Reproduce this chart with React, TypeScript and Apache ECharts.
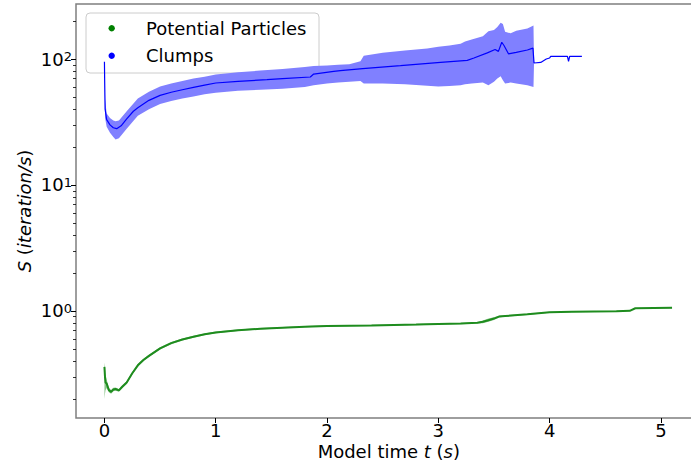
import React, { useEffect, useRef } from 'react';
import * as echarts from 'echarts';

// Clumps: mean throughput over model time
const clumpT = [0, 0.002, 0.006, 0.02, 0.05, 0.08, 0.11, 0.15, 0.2, 0.26, 0.3, 0.4, 0.5, 0.6, 0.7, 0.8, 0.9, 1.0, 1.2, 1.46, 1.6, 1.85, 1.88, 2.06, 2.12, 2.32, 2.66, 3.02, 3.26, 3.32, 3.44, 3.51, 3.54, 3.57, 3.59, 3.63, 3.7, 3.8, 3.85, 3.86, 3.92, 3.97, 4.0, 4.01, 4.16, 4.17, 4.18, 4.29];
const clumpMean = [95, 68, 40, 33, 30, 28.5, 28, 29.5, 33.5, 38.5, 41, 47, 51.5, 54.5, 57, 59.5, 62, 64.5, 66.5, 68.6, 70, 72, 76, 79.8, 80.9, 84, 88.6, 94.2, 97.7, 102, 112, 119, 115, 136, 128, 110, 113, 118, 122, 93, 94, 100, 102, 105, 105, 96, 105, 105];

// Clumps: spread band
const clumpBandT = [0, 0.002, 0.006, 0.02, 0.05, 0.08, 0.1, 0.13, 0.2, 0.3, 0.4, 0.5, 0.6, 0.7, 0.8, 0.9, 1.0, 1.2, 1.4, 1.6, 1.8, 1.88, 2.0, 2.1, 2.2, 2.3, 2.33, 2.5, 2.7, 2.9, 3.0, 3.1, 3.2, 3.24, 3.3, 3.4, 3.45, 3.5, 3.53, 3.56, 3.58, 3.6, 3.65, 3.7, 3.8, 3.855, 3.86];
const clumpUpper = [100, 75, 48, 37, 34, 32.5, 32, 32.5, 38.5, 48.5, 55, 60.5, 64, 67, 70, 72.5, 75.5, 78.5, 81, 83.5, 86.5, 88, 89, 90, 91, 96, 106, 112, 117, 121, 125, 128, 132, 138, 143, 152, 166, 170, 180, 194, 190, 165, 160, 168, 175, 185, 93];
const clumpLower = [90, 62, 34, 29, 26, 24, 23, 23.5, 28, 35.5, 40, 44, 46.5, 48.5, 50.5, 52.5, 54, 56, 57, 58, 60, 62, 64, 65, 66, 67, 64, 64, 63, 61.5, 60.5, 61, 62, 63, 64, 65, 62, 66, 70, 73, 68, 64, 65, 64, 62, 60, 93];

// Potential particles: mean and spread
const particleT = [0, 0.005, 0.01, 0.02, 0.04, 0.06, 0.08, 0.1, 0.13, 0.16, 0.2, 0.25, 0.3, 0.35, 0.4, 0.5, 0.6, 0.7, 0.8, 0.9, 1.0, 1.2, 1.4, 1.6, 1.8, 2.0, 2.4, 2.8, 3.0, 3.2, 3.35, 3.4, 3.45, 3.5, 3.55, 3.6, 3.8, 4.0, 4.2, 4.4, 4.6, 4.72, 4.77, 5.1];
const particleMean = [0.36, 0.3, 0.27, 0.265, 0.235, 0.228, 0.238, 0.24, 0.234, 0.25, 0.27, 0.32, 0.37, 0.408, 0.44, 0.505, 0.555, 0.593, 0.625, 0.652, 0.675, 0.702, 0.723, 0.737, 0.75, 0.76, 0.768, 0.78, 0.788, 0.795, 0.805, 0.82, 0.845, 0.87, 0.905, 0.912, 0.94, 0.975, 0.985, 0.99, 0.995, 1.003, 1.05, 1.06];
const particleLower = [0.2, 0.22, 0.235, 0.245, 0.226, 0.22, 0.23, 0.233, 0.228, 0.243, 0.263, 0.312, 0.361, 0.399, 0.43, 0.494, 0.544, 0.582, 0.614, 0.641, 0.664, 0.692, 0.713, 0.728, 0.741, 0.751, 0.759, 0.771, 0.779, 0.786, 0.795, 0.8, 0.82, 0.848, 0.89, 0.9, 0.93, 0.966, 0.977, 0.982, 0.987, 0.995, 1.043, 1.053];
const particleUpper = [0.39, 0.36, 0.31, 0.285, 0.245, 0.236, 0.246, 0.247, 0.24, 0.257, 0.277, 0.328, 0.379, 0.417, 0.45, 0.516, 0.566, 0.604, 0.636, 0.663, 0.686, 0.712, 0.733, 0.746, 0.759, 0.769, 0.777, 0.789, 0.797, 0.804, 0.815, 0.84, 0.87, 0.892, 0.92, 0.924, 0.95, 0.984, 0.993, 0.998, 1.003, 1.011, 1.057, 1.067];

const xTicks = [0, 1, 2, 3, 4, 5];
const yMajorTicks = [1, 10, 100];
const yMinorTicks = [0.2, 0.3, 0.4, 0.5, 0.6, 0.7, 0.8, 0.9, 2, 3, 4, 5, 6, 7, 8, 9, 20, 30, 40, 50, 60, 70, 80, 90, 200];
const legendNames = ['Potential Particles', 'Clumps'];

const FONT = 'DejaVu Sans';

function bandSeries(name: string, t: number[], lo: number[], hi: number[], color: string) {
  return {
    type: 'custom',
    name,
    silent: true,
    z: 1,
    data: t.map((v, i) => [v, hi[i], lo[i]]),
    encode: { x: 0, y: [1, 2] },
    renderItem: (params: any, api: any) => {
      if (params.dataIndex !== 0) return null;
      const pts: number[][] = [];
      for (let i = 0; i < t.length; i++) pts.push(api.coord([t[i], hi[i]]));
      for (let i = t.length - 1; i >= 0; i--) pts.push(api.coord([t[i], lo[i]]));
      return { type: 'polygon', shape: { points: pts }, style: { fill: color } };
    },
  };
}

export default function App() {
  const ref = useRef<HTMLDivElement>(null);
  useEffect(() => {
    document.body.style.margin = '0';
    const chart = echarts.init(ref.current!, null, { renderer: 'svg' });
    const tickLabelRich = {
      b: { fontSize: 18, fontFamily: FONT, color: '#000' },
      s: { fontSize: 13, fontFamily: FONT, color: '#000', verticalAlign: 'top' },
    };
    chart.setOption({
      animation: false,
      grid: {
        left: 76,
        top: 4,
        width: 625.6,
        height: 414,
        show: true,
        borderColor: '#7f7f7f',
        borderWidth: 1.5,
        outerBoundsMode: 'none',
        containLabel: false,
      },
      xAxis: {
        type: 'value',
        min: -0.2555,
        max: 5.3655,
        axisLine: { show: false, onZero: false },
        splitLine: { show: false },
        axisTick: { customValues: xTicks, length: 5, lineStyle: { color: '#000', width: 1 } },
        axisLabel: { customValues: xTicks, fontSize: 18, fontFamily: FONT, color: '#000', margin: 3 },
        name: 'Model time {i|t} ({i|s})',
        nameLocation: 'middle',
        nameGap: 24,
        nameMoveOverlap: false,
        nameTextStyle: {
          fontSize: 18,
          fontFamily: FONT,
          color: '#000',
          rich: { i: { fontStyle: 'italic', fontSize: 18, fontFamily: FONT, color: '#000' } },
        },
      },
      yAxis: [
        {
          type: 'log',
          min: 0.1413,
          max: 273.5,
          axisLine: { show: false, onZero: false },
          splitLine: { show: false },
          axisTick: { customValues: yMajorTicks, length: 5, lineStyle: { color: '#000', width: 1 } },
          axisLabel: {
            customValues: yMajorTicks,
            margin: 4,
            formatter: (v: number) => `{b|10}{s|${Math.round(Math.log10(v))}}`,
            rich: tickLabelRich,
          },
          name: '{i|S} ({i|iteration/s})',
          nameLocation: 'middle',
          nameRotate: 90,
          nameGap: 43,
          nameMoveOverlap: false,
          nameTextStyle: {
            fontSize: 18,
            fontFamily: FONT,
            color: '#000',
            rich: { i: { fontStyle: 'italic', fontSize: 18, fontFamily: FONT, color: '#000' } },
          },
        },
        {
          type: 'log',
          min: 0.1413,
          max: 273.5,
          position: 'left',
          axisLine: { show: false, onZero: false },
          splitLine: { show: false },
          axisLabel: { show: false },
          axisTick: { customValues: yMinorTicks, length: 3, lineStyle: { color: '#000', width: 0.8 } },
        },
      ],
      series: [
        bandSeries('Clumps spread', clumpBandT, clumpLower, clumpUpper, '#8080ff'),
        bandSeries('Potential Particles spread', particleT, particleLower, particleUpper, 'rgba(0,128,0,0.45)'),
        {
          type: 'line',
          name: legendNames[1],
          data: clumpT.map((t, i) => [t, clumpMean[i]]),
          showSymbol: false,
          symbol: 'none',
          lineStyle: { color: '#0000ff', width: 1.2 },
          z: 3,
        },
        {
          type: 'line',
          name: legendNames[0],
          data: particleT.map((t, i) => [t, particleMean[i]]),
          showSymbol: false,
          symbol: 'none',
          lineStyle: { color: '#1e8c1e', width: 2 },
          z: 3,
        },
      ],
      graphic: [
        {
          type: 'group',
          z: 100,
          children: [
            {
              type: 'rect',
              shape: { x: 86, y: 13, width: 233, height: 60, r: 4 },
              style: { fill: 'rgba(255,255,255,0.8)', stroke: '#cccccc', lineWidth: 1 },
            },
            { type: 'circle', shape: { cx: 111.7, cy: 28.3, r: 3.2 }, style: { fill: '#008000' } },
            { type: 'circle', shape: { cx: 111.7, cy: 55.7, r: 3.2 }, style: { fill: '#0000ff' } },
            {
              type: 'text',
              x: 146,
              y: 28.3,
              style: { text: legendNames[0], font: `18px "${FONT}"`, fill: '#000', verticalAlign: 'middle' },
            },
            {
              type: 'text',
              x: 146,
              y: 55.7,
              style: { text: legendNames[1], font: `18px "${FONT}"`, fill: '#000', verticalAlign: 'middle' },
            },
          ],
        },
      ],
    });
    return () => chart.dispose();
  }, []);
  return <div ref={ref} style={{ width: 691, height: 467 }} />;
}
